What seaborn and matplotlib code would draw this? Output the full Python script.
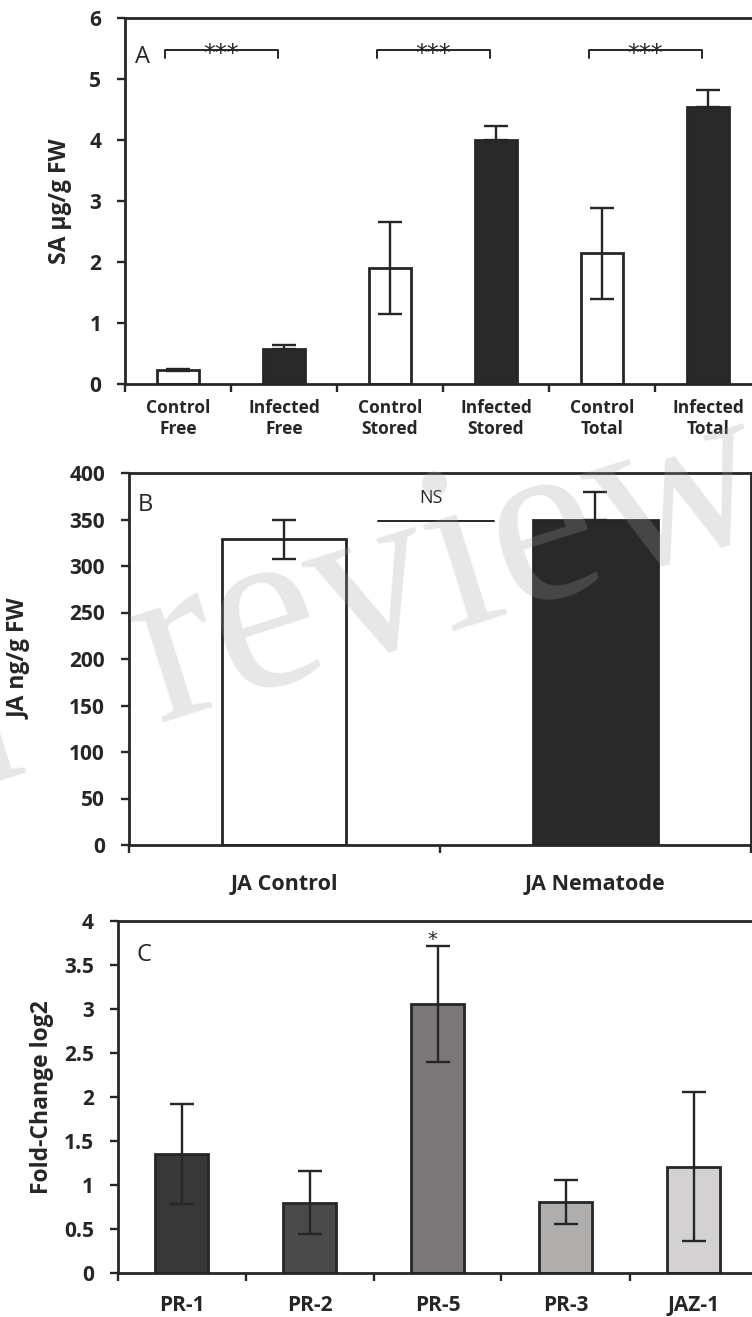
import matplotlib
matplotlib.use("Agg")
import matplotlib.pyplot as plt
import seaborn as sns
import numpy as np

# ---------------- data ----------------
sa_categories = ["Control\nFree", "Infected\nFree", "Control\nStored",
                 "Infected\nStored", "Control\nTotal", "Infected\nTotal"]
sa_values = [0.23, 0.57, 1.90, 4.00, 2.14, 4.54]
sa_errors = [0.02, 0.07, 0.76, 0.23, 0.75, 0.28]
sa_yticks = [0, 1, 2, 3, 4, 5, 6]

ja_categories = ["JA Control", "JA Nematode"]
ja_values = [329, 349]
ja_errors = [21, 31]
ja_yticks = [0, 50, 100, 150, 200, 250, 300, 350, 400]

gene_categories = ["PR-1", "PR-2", "PR-5", "PR-3", "JAZ-1"]
gene_values = [1.35, 0.80, 3.06, 0.81, 1.21]
gene_errors = [0.57, 0.355, 0.66, 0.25, 0.85]
gene_yticks = [0, 0.5, 1, 1.5, 2, 2.5, 3, 3.5, 4]
gene_yticklabels = ["0", "0.5", "1", "1.5", "2", "2.5", "3", "3.5", "4"]

sa_brackets = [(0, 1), (2, 3), (4, 5)]

# ---------------- style ----------------
sns.set_theme(style="white")
FONT = ['Open Sans', 'DejaVu Sans']
plt.rcParams['font.family'] = FONT
INK = "#262626"
DARK = "#292929"

W, H = 752, 1317
fig = plt.figure(figsize=(W / 100, H / 100), dpi=100)


def px_axes(left, top, right, bottom):
    return fig.add_axes([left / W, 1 - bottom / H, (right - left) / W, (bottom - top) / H])


def draw_panel(ax, cats, vals, errs, colors, yticks, ylabels, ylim, ylabel,
               xfs, xpad, width, upper_only):
    sns.barplot(x=cats, y=vals, hue=cats, palette=colors, legend=False,
                ax=ax, width=width, edgecolor=INK, linewidth=2.0,
                errorbar=None, saturation=1)
    lower = [0 if u else e for e, u in zip(errs, upper_only)]
    ax.errorbar(np.arange(len(cats)), vals, yerr=[lower, errs], fmt="none",
                ecolor=INK, elinewidth=1.7, capsize=8.5, capthick=1.7, zorder=5)
    n = len(cats)
    ax.set_xlim(-0.5, n - 0.5)
    ax.set_ylim(*ylim)
    ax.set_yticks(yticks)
    ax.set_yticklabels(ylabels, fontsize=15, fontweight="bold", color=INK)
    ax.set_xticks(np.arange(-0.5, n, 1.0))
    ax.set_xticklabels([])
    ax.set_xticks(np.arange(n), minor=True)
    ax.set_xticklabels(cats, minor=True, fontsize=xfs, fontweight="bold",
                       color=INK, linespacing=1.2)
    ax.tick_params(axis="x", which="major", direction="out", length=6,
                   width=1.7, color=INK, bottom=True)
    ax.tick_params(axis="x", which="minor", length=0, pad=xpad, bottom=True)
    ax.tick_params(axis="y", direction="out", length=6, width=1.7,
                   color=INK, pad=11, left=True)
    ax.set_xlabel("")
    ax.set_ylabel(ylabel, fontsize=16.5, fontweight="bold", color=INK)
    for s in ["left", "bottom", "top", "right"]:
        ax.spines[s].set_visible(True)
        ax.spines[s].set_color(INK)
        ax.spines[s].set_linewidth(2.0)


# ---------------- Panel A ----------------
axA = px_axes(125, 18, 761, 384)
draw_panel(axA, sa_categories, sa_values, sa_errors,
           ["white", DARK] * 3, sa_yticks, [str(t) for t in sa_yticks],
           (0, 6), "SA µg/g FW", 12.5, 11, 0.4, [False, True] * 3)
axA.yaxis.set_label_coords(-0.083, 0.5)
axA.text(0.015, 0.893, "A", transform=axA.transAxes, fontsize=17,
         ha="left", va="center", color=INK)
for a, b in sa_brackets:
    xl, xr = a - 0.12, b - 0.06
    axA.plot([xl, xl, xr, xr], [5.35, 5.48, 5.48, 5.35], color=INK, lw=1.4,
             clip_on=False)
    axA.text((xl + xr) / 2, 5.29, "***", ha="center", va="baseline",
             fontsize=17, color=INK, family=["DejaVu Sans"])

# ---------------- Panel B ----------------
axB = px_axes(128.5, 473, 751, 845)
draw_panel(axB, ja_categories, ja_values, ja_errors,
           ["white", DARK], ja_yticks, [str(t) for t in ja_yticks],
           (0, 400), "JA ng/g FW", 15.5, 21, 0.4, [False, True])
axB.yaxis.set_label_coords(-0.155, 0.5)
axB.text(0.015, 0.914, "B", transform=axB.transAxes, fontsize=17,
         ha="left", va="center", color=INK)
axB.plot([0.3, 0.675], [348, 348], color=INK, lw=1.4)
axB.text(0.473, 373, "NS", ha="center", va="center", fontsize=13, color=INK)

# ---------------- Panel C ----------------
axC = px_axes(117.5, 921, 757.5, 1273)
draw_panel(axC, gene_categories, gene_values, gene_errors,
           ["#383838", "#4a4a4a", "#7b7778", "#b0aeac", "#d3d1d1"],
           gene_yticks, gene_yticklabels, (0, 4), "Fold-Change log2",
           15, 16, 0.41, [False] * 5)
axC.yaxis.set_label_coords(-0.10, 0.5)
axC.text(0.03, 0.903, "C", transform=axC.transAxes, fontsize=17,
         ha="left", va="center", color=INK)
axC.text(1.96, 3.73, "*", ha="center", va="baseline", fontsize=14, color=INK,
         family=["DejaVu Sans"])

# ---------------- watermark ----------------
WM_FS = 172
WM_ROT = 17.5
wm_style = dict(fontsize=WM_FS, family=["Liberation Serif", "DejaVu Serif"],
                rotation=WM_ROT, rotation_mode="anchor", va="baseline",
                color="#a0a0a0", alpha=0.25, zorder=10)
fig.text(158 / W, 1 - 722 / H, "review", ha="left", **wm_style)
fig.text(30 / W, 1 - 768 / H, "In", ha="right", **wm_style)

fig.savefig("out.png", dpi=100)
